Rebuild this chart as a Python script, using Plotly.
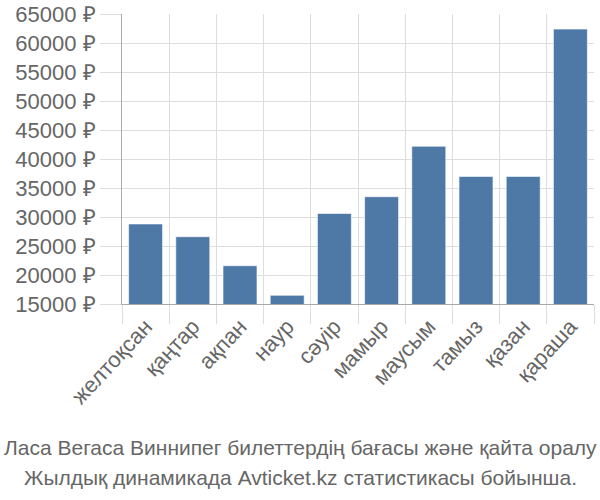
import plotly.graph_objects as go

months = ["желтоқсан", "қаңтар", "ақпан", "наур", "сәуір", "мамыр",
          "маусым", "тамыз", "қазан", "қараша"]
prices = [28800, 26600, 21600, 16500, 30600, 33500, 42200, 37000, 37000, 62400]
y_ticks = [15000, 20000, 25000, 30000, 35000, 40000, 45000, 50000, 55000, 60000, 65000]
y_tick_text = [f"{v} ₽" for v in y_ticks]
title_lines = ["Ласа Вегаса Виннипег билеттердің бағасы және қайта оралу",
               "Жылдық динамикада Avticket.kz статистикасы бойынша."]

grey = "#666666"
grid = "#dddddd"
W, H = 600, 500
ML, MR, MT, MB = 122, 6, 14, 196

fig = go.Figure(go.Bar(
    x=months, y=prices,
    marker=dict(color="#4e79a7", line=dict(color="rgba(255,255,255,0.6)", width=1)),
))

fig.update_layout(
    width=W, height=H,
    margin=dict(l=ML, r=MR, t=MT, b=MB, autoexpand=False),
    paper_bgcolor="white", plot_bgcolor="white",
    bargap=0.28,
    showlegend=False,
    font=dict(family="Liberation Sans, Arial, sans-serif", color=grey),
    xaxis=dict(
        type="category", tickson="boundaries",
        showgrid=True, gridcolor=grid, gridwidth=1,
        ticks="outside", ticklen=19, tickcolor=grid,
        tickangle=-47, tickfont=dict(size=22, color=grey),
        showline=True, linecolor="#aaaaaa", linewidth=1,
        automargin=False,
    ),
    yaxis=dict(
        range=[15000, 65000], tickvals=y_ticks, ticktext=y_tick_text,
        showgrid=True, gridcolor=grid, gridwidth=1,
        ticks="outside", ticklen=21, tickcolor=grid,
        tickfont=dict(size=22, color=grey),
        showline=True, linecolor="#aaaaaa", linewidth=1,
        zeroline=False, automargin=False,
    ),
)

plot_h = H - MT - MB
plot_w = W - ML - MR
def pix_to_paper_y(py):
    return (H - MB - py) / plot_h
def pix_to_paper_x(px):
    return (px - ML) / plot_w

for line, py in zip(title_lines, [447, 477]):
    fig.add_annotation(
        text=line, xref="paper", yref="paper",
        x=pix_to_paper_x(300), y=pix_to_paper_y(py),
        xanchor="center", yanchor="middle", showarrow=False,
        font=dict(size=21, color=grey, family="Liberation Sans, Arial"),
    )

fig.write_html("out.html", config={"displayModeBar": False},
               post_script="document.body.style.margin='0px';")
